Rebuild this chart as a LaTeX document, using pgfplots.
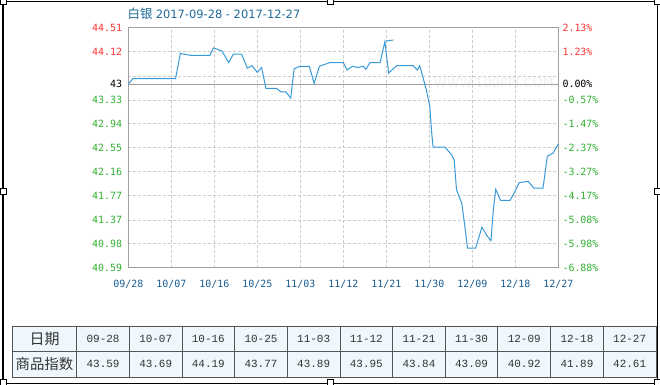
\documentclass[border=0pt]{standalone}
\usepackage{pgfplots}
\pgfplotsset{compat=1.18}
\usepackage{fontspec}
\setmainfont{DejaVu Sans}
\newfontfamily\mono{DejaVu Sans Mono}
\newfontfamily\tmono{Liberation Mono}
\newfontfamily\cjk{Noto Sans CJK SC}
\definecolor{linec}{HTML}{3A9AD9}
\definecolor{axisgray}{HTML}{A0A0A0}
\definecolor{gridgray}{HTML}{CCCCCC}
\definecolor{posred}{HTML}{FF3333}
\definecolor{neggreen}{HTML}{33B033}
\definecolor{xblue}{HTML}{1A5E94}
\definecolor{titleblue}{HTML}{1E6A9A}
\definecolor{cellfill}{HTML}{EEF8FC}
\definecolor{cellborder}{HTML}{555555}
\definecolor{celltext}{HTML}{333333}
\begin{document}
\begin{tikzpicture}
\path[use as bounding box, fill=white] (0,0) rectangle (660bp,385bp);
\begin{scope}[x=1bp, y=-1bp, shift={(0bp,385bp)}]
  % watermark
  \node[text=black!6, font=\fontsize{13}{15}\selectfont] at (494,83) {WWW.100PPI.COM};
  % title
  \node[anchor=west, inner sep=0pt, text=titleblue] at (127.5,13.5) {{\cjk\fontsize{12.5}{14}\selectfont 白银} {\fontsize{11.5}{14}\selectfont 2017-09-28 - 2017-12-27}};
\end{scope}
\begin{axis}[
  at={(128.3bp,117.3bp)}, anchor=south west,
  scale only axis, width=430bp, height=240bp,
  xmin=0, xmax=90, ymin=40.59, ymax=44.51,
  axis line style={draw=axisgray, line width=0.9bp},
  major tick length=0pt,
  xtick={0,9,18,27,36,45,54,63,72,81,90},
  xticklabels={09/28,10/07,10/16,10/25,11/03,11/12,11/21,11/30,12/09,12/18,12/27},
  xticklabel style={font=\mono\fontsize{10}{12}\selectfont, text=xblue, inner sep=0pt, anchor=center, yshift=-17bp},
  ytick={40.59,40.98,41.37,41.77,42.16,42.55,42.94,43.33,43.72,44.12,44.51},
  yticklabels={
    \textcolor{neggreen}{40.59},\textcolor{neggreen}{40.98},\textcolor{neggreen}{41.37},
    \textcolor{neggreen}{41.77},\textcolor{neggreen}{42.16},\textcolor{neggreen}{42.55},
    \textcolor{neggreen}{42.94},\textcolor{neggreen}{43.33},{},
    \textcolor{posred}{44.12},\textcolor{posred}{44.51}},
  yticklabel style={font=\mono\fontsize{10}{12}\selectfont, inner sep=0pt, anchor=east, xshift=-6bp},
  extra y ticks={43.59},
  extra y tick labels={43},
  extra y tick style={grid=major, major grid style={solid, draw=axisgray, line width=0.9bp}},
  xmajorgrids, ymajorgrids,
  major grid style={draw=gridgray, line width=0.7bp, dash pattern=on 3bp off 2bp},
  /pgf/number format/assume math mode=true,
]
\addplot[linec, line width=1bp, mark=none] coordinates {
(0,43.59) (1,43.68) (9.9,43.68) (10.9,44.09) (12.9,44.06) (17.1,44.06) (17.8,44.18)
(19.6,44.13) (21,43.94) (22,44.08) (23.7,44.08) (24.9,43.85) (25.9,43.89) (27,43.78)
(27.9,43.86) (28.8,43.52) (31,43.52) (32,43.46) (33,43.46) (34,43.36) (34.7,43.84)
(35.9,43.88) (37.9,43.88) (38.9,43.60) (40,43.88) (42.2,43.94) (45,43.94) (45.8,43.82)
(46.9,43.88) (48.1,43.86) (49.2,43.88) (49.7,43.83) (50.6,43.94) (52.7,43.94)
(53.7,44.28) (54.5,43.77) (55.2,43.82) (56.2,43.89) (59.6,43.89) (60.5,43.82) (61,43.89)
(62.4,43.49) (63.1,43.22) (63.5,42.79) (63.8,42.56) (66.3,42.56) (67.7,42.43) (68.2,42.35)
(68.7,41.86) (69.8,41.64) (70.5,41.23) (71,40.91) (72.7,40.91) (74,41.25) (75,41.12)
(75.9,41.03) (76.4,41.53) (76.9,41.87) (77.9,41.69) (79.9,41.69) (80.9,41.83) (81.8,41.98)
(83.7,42.00) (84.9,41.89) (86.8,41.89) (87.7,42.41) (88.9,42.46) (90,42.61)
};
\addplot[linec, line width=1bp, mark=none] coordinates {(53.8,44.29) (55.5,44.31)};
\end{axis}
\begin{axis}[
  at={(128.3bp,117.3bp)}, anchor=south west,
  scale only axis, width=430bp, height=240bp,
  xmin=0, xmax=90, ymin=40.59, ymax=44.51,
  hide x axis, axis y line*=right,
  axis line style={draw=axisgray, line width=0.9bp},
  major tick length=0pt,
  ytick={40.59,40.98,41.37,41.77,42.16,42.55,42.94,43.33,43.72,44.12,44.51},
  yticklabels={
    \textcolor{neggreen}{-6.88\%},\textcolor{neggreen}{-5.98\%},\textcolor{neggreen}{-5.08\%},
    \textcolor{neggreen}{-4.17\%},\textcolor{neggreen}{-3.27\%},\textcolor{neggreen}{-2.37\%},
    \textcolor{neggreen}{-1.47\%},\textcolor{neggreen}{-0.57\%},{},
    \textcolor{posred}{1.23\%},\textcolor{posred}{2.13\%}},
  yticklabel style={font=\mono\fontsize{10}{12}\selectfont, inner sep=0pt, anchor=west, xshift=4bp},
  extra y ticks={43.59},
  extra y tick labels={0.00\%},
  /pgf/number format/assume math mode=true,
]
\addplot[draw=none] coordinates {(0,43.59)};
\end{axis}
\begin{scope}[x=1bp, y=-1bp, shift={(0bp,385bp)}]
  % table
  \foreach \xa/\xb/\d/\v in {76.7/129.4/09-28/43.59, 129.4/182.0/10-07/43.69, 182.0/234.7/10-16/44.19,
     234.7/287.3/10-25/43.77, 287.3/340.0/11-03/43.89, 340.0/392.6/11-12/43.95, 392.6/445.3/11-21/43.84,
     445.3/497.9/11-30/43.09, 497.9/550.6/12-09/40.92, 550.6/603.3/12-18/41.89, 603.3/656.0/12-27/42.61} {
    \filldraw[fill=cellfill, draw=cellborder, line width=0.9bp] (\xa,326) rectangle (\xb,351);
    \filldraw[fill=cellfill, draw=cellborder, line width=0.9bp] (\xa,351) rectangle (\xb,377.5);
    \node[text=celltext, font=\tmono\fontsize{11}{12}\selectfont, inner sep=0pt] at ({(\xa+\xb)/2},338.5) {\d};
    \node[text=celltext, font=\tmono\fontsize{11}{12}\selectfont, inner sep=0pt] at ({(\xa+\xb)/2},364.3) {\v};
  }
  \filldraw[fill=cellfill, draw=cellborder, line width=0.9bp] (12.3,326) rectangle (76.7,351);
  \filldraw[fill=cellfill, draw=cellborder, line width=0.9bp] (12.3,351) rectangle (76.7,377.5);
  \node[text=celltext, font=\cjk\fontsize{15}{16}\selectfont, inner sep=0pt] at (44.5,338.5) {日期};
  \node[text=celltext, font=\cjk\fontsize{14.5}{16}\selectfont, inner sep=0pt] at (44.5,364.3) {商品指数};
  % frame
  \draw[black, line width=1.2bp] (3,1.5) rectangle (657.5,383.3);
  \foreach \hx/\hy in {3/2, 330/2, 657/2, 3/192, 657/192, 3/383, 330/383, 657/383} {
    \filldraw[fill=white, draw=black, line width=1bp] (\hx-3,\hy-3) rectangle (\hx+3,\hy+3);
  }
\end{scope}
\end{tikzpicture}
\end{document}
